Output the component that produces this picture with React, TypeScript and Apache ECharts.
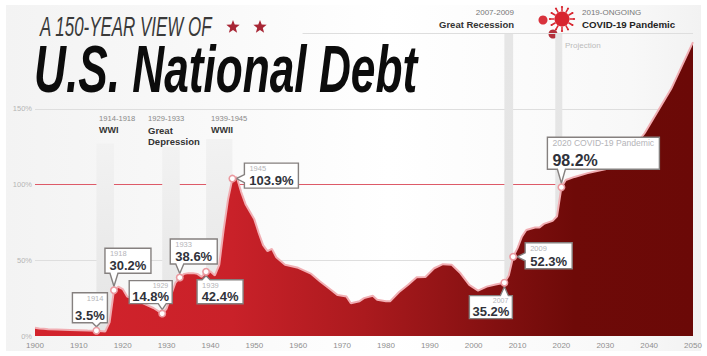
import React, { useEffect, useRef } from "react";
import * as echarts from "echarts";

const SANS = '"Liberation Sans", sans-serif';

// Debt held by the public, share of GDP
const years = [
  1900, 1901, 1902, 1903, 1905, 1908, 1910, 1912, 1914, 1916, 1917, 1918, 1919, 1920, 1921, 1923, 1925, 1927, 1929,
  1930, 1931, 1932, 1933, 1934, 1935, 1936, 1937, 1938, 1939, 1940, 1941, 1942, 1943, 1944, 1945, 1946, 1947, 1948,
  1949, 1950, 1951, 1952, 1953, 1954, 1955, 1957, 1960, 1963, 1965, 1967, 1969, 1971, 1972, 1974, 1975, 1977, 1978,
  1980, 1981, 1983, 1985, 1987, 1989, 1991, 1993, 1995, 1997, 1999, 2001, 2003, 2005, 2007, 2008, 2009, 2010, 2011,
  2012, 2014, 2015, 2016, 2018, 2019, 2020, 2021, 2023, 2026, 2030, 2035, 2039, 2045, 2050,
];
const debtShare = [
  5.5, 5, 4.8, 4.5, 4.3, 4, 3.8, 3.6, 3.5, 3, 9, 30.2, 32.5, 31, 26, 24, 21, 18.5, 14.8, 18, 27, 35, 38.6, 41, 41.5,
  41.5, 41, 39, 42.4, 42.5, 40, 47, 70, 90, 103.9, 104.8, 95, 87, 82, 77, 68, 60, 56, 57.5, 52, 47, 45, 41, 36, 31.5,
  27, 26, 21.6, 23, 25, 26.6, 24, 23, 23, 29, 33.7, 38.8, 39, 44.7, 47.4, 47, 41.4, 33.7, 30, 32.6, 34, 35.2, 40, 52.3,
  58, 65.6, 70, 71.6, 71.6, 74, 76, 79, 98.2, 103, 105, 107.5, 110, 119, 134, 163, 194,
];

const calloutYears = [1914, 1918, 1929, 1933, 1939, 1945, 2007, 2009, 2020];
const calloutValues = [3.5, 30.2, 14.8, 38.6, 42.4, 103.9, 35.2, 52.3, 98.2];
const calloutNames = ["1914", "1918", "1929", "1933", "1939", "1945", "2007", "2009", "2020 COVID-19 Pandemic"];

const eraStarts = [1914, 1929, 1939, 2007, 2018.6];
const eraEnds = [1918, 1933, 1945, 2009, 2020.2];
const eraTops = [127, 125, 130, 200, 200];

const xTickFormat = (v: number) => String(v);
const yTickFormat = (v: number) => (v === 200 ? "" : v + "%");

// Box placement of each callout relative to its point, plus the side its tail leaves from
const calloutLayout = [
  { dx: -24, dy: -38, w: 35, h: 30, side: "bottom", yearAlign: "right", size: 13, yearSize: 7.5 },
  { dx: -9, dy: -42, w: 46, h: 25, side: "bottom", yearAlign: "left", size: 13, yearSize: 7.5 },
  { dx: -33, dy: -33, w: 43, h: 23, side: "bottom", yearAlign: "right", size: 13, yearSize: 7 },
  { dx: -9.5, dy: -38.5, w: 47, h: 25, side: "bottom", yearAlign: "left", size: 13, yearSize: 7.5 },
  { dx: -9, dy: 8, w: 46, h: 24, side: "top", yearAlign: "left", size: 13, yearSize: 7.5 },
  { dx: 12, dy: -15.5, w: 54, h: 25, side: "left", yearAlign: "left", size: 13, yearSize: 7.5 },
  { dx: -35, dy: 13, w: 43, h: 23, side: "top", yearAlign: "right", size: 13, yearSize: 7 },
  { dx: 12, dy: -14, w: 47, h: 26, side: "left", yearAlign: "left", size: 13, yearSize: 7.5 },
  { dx: -14, dy: -50, w: 112, h: 32, side: "bottom", yearAlign: "left", size: 16, yearSize: 8.6 },
];

function calloutOutline(l: any) {
  const { dx, dy, w, h, side } = l;
  const r = dx + w;
  const b = dy + h;
  const t = 4;
  if (side === "bottom") {
    return [[dx, dy], [r, dy], [r, b], [t, b], [0, -4], [-t, b], [dx, b]];
  }
  if (side === "top") {
    return [[dx, dy], [-t, dy], [0, 4], [t, dy], [r, dy], [r, b], [dx, b]];
  }
  return [[dx, dy], [r, dy], [r, b], [dx, b], [dx, 4], [4, 0], [dx, -4]];
}

function renderCallout(params: any, api: any) {
  const i = params.dataIndex;
  const [px, py] = api.coord([api.value(0), api.value(1)]);
  const l = calloutLayout[i];
  const pts = calloutOutline(l).map(([x, y]) => [px + x, py + y]);
  const yearRight = l.yearAlign === "right";
  const wide = l.size > 14;
  return {
    type: "group",
    children: [
      { type: "polygon", shape: { points: pts }, style: { fill: "#fff", stroke: "#85807f", lineWidth: 1.4 } },
      {
        type: "text",
        style: {
          text: calloutNames[i],
          x: px + (yearRight ? l.dx + l.w - 4 : l.dx + 5),
          y: py + l.dy + 1.5,
          align: yearRight ? "right" : "left",
          verticalAlign: "top",
          fill: "#b4b4b8",
          font: `${l.yearSize}px ${SANS}`,
        },
      },
      {
        type: "text",
        style: {
          text: calloutValues[i].toFixed(1) + "%",
          x: px + l.dx + (wide ? 5 : l.w / 2),
          y: py + l.dy + l.h - 1,
          align: wide ? "left" : "center",
          verticalAlign: "bottom",
          fill: "#30323a",
          font: `bold ${l.size}px ${SANS}`,
        },
      },
      {
        type: "circle",
        shape: { cx: px, cy: py, r: 3.2 },
        style: { fill: "#fff", stroke: "#eb9aa0", lineWidth: 1.6 },
      },
    ],
  };
}

function star(cx: number, cy: number, r: number) {
  const points: number[][] = [];
  for (let k = 0; k < 10; k++) {
    const a = -Math.PI / 2 + (k * Math.PI) / 5;
    const q = k % 2 ? r * 0.42 : r;
    points.push([cx + q * Math.cos(a), cy + q * Math.sin(a)]);
  }
  return { type: "polygon", shape: { points }, style: { fill: "#a82635" } };
}

// Spiked ball standing for the virus in the top legend
function virus(cx: number, cy: number, r: number, fill: string, spikes: number) {
  const parts: any[] = [];
  for (let k = 0; k < spikes; k++) {
    const a = (k * 2 * Math.PI) / spikes;
    parts.push({
      type: "line",
      shape: {
        x1: cx + r * Math.cos(a),
        y1: cy + r * Math.sin(a),
        x2: cx + (r + 4) * Math.cos(a),
        y2: cy + (r + 4) * Math.sin(a),
      },
      style: { stroke: fill, lineWidth: 1.5 },
    });
    parts.push({
      type: "circle",
      shape: { cx: cx + (r + 4.5) * Math.cos(a), cy: cy + (r + 4.5) * Math.sin(a), r: 1.1 },
      style: { fill },
    });
  }
  parts.push({ type: "circle", shape: { cx, cy, r }, style: { fill } });
  return parts;
}

function label(text: string, x: number, y: number, font: string, fill: string, align = "left") {
  return { type: "text", style: { text, x, y, font, fill, align, verticalAlign: "middle" } };
}

// Condensed headline type: the text is squeezed horizontally about its left edge
function headline(text: string, x: number, y: number, font: string, fill: string, scaleX: number) {
  return { type: "text", x, y, scaleX, style: { text, x: 0, y: 0, font, fill, verticalAlign: "middle" } };
}

function buildOption() {
  const line = years.map((y, i) => [y, debtShare[i]]);
  const eras = eraStarts.map((s, i) => [
    {
      xAxis: s,
      yAxis: 0,
      itemStyle: {
        color: {
          type: "linear", x: 0, y: 0, x2: 0, y2: 1,
          colorStops: [
            { offset: 0, color: i > 2 ? "#e6e6e6" : "#f2f2f2" },
            { offset: 1, color: "#e4e4e4" },
          ],
        },
      },
    },
    { xAxis: eraEnds[i], yAxis: eraTops[i] },
  ]);

  return {
    animation: false,
    grid: { left: 35, right: 14, top: 33, bottom: 20 },
    xAxis: {
      type: "value",
      min: 1900,
      max: 2050,
      interval: 10,
      axisLine: { show: false },
      axisTick: { show: false },
      splitLine: { show: false },
      axisLabel: {
        color: "#8f8f8f",
        fontSize: 8,
        fontFamily: SANS,
        margin: 5,
        formatter: xTickFormat,
      },
    },
    yAxis: {
      type: "value",
      min: 0,
      max: 200,
      interval: 50,
      axisLine: { show: false },
      axisTick: { show: false },
      axisLabel: {
        fontSize: 7.5,
        fontFamily: SANS,
        margin: 3,
        color: (v: number) => (v === 100 ? "#dc5560" : "#b5b5b5"),
        formatter: yTickFormat,
      },
      splitLine: {
        show: true,
        lineStyle: { color: ["transparent", "#dedede", "#dd5a68", "#dedede", "transparent"], width: 1.2 },
      },
    },
    graphic: {
      elements: [
        {
          type: "rect",
          z: -10,
          silent: true,
          shape: { x: 6, y: 5, width: 695, height: 346 },
          style: {
            fill: {
              type: "linear", x: 0, y: 0, x2: 1, y2: 0,
              colorStops: [
                { offset: 0, color: "#f3f3f3" },
                { offset: 0.25, color: "#f8f8f8" },
                { offset: 0.55, color: "#ffffff" },
                { offset: 0.9, color: "#f8f8f8" },
                { offset: 1, color: "#f2f2f2" },
              ],
            },
          },
        },
        headline("A 150-YEAR VIEW OF", 40, 26, `italic 28px ${SANS}`, "#3a3a3a", 0.605),
        star(233, 27, 7),
        star(260, 27, 7),
        headline("U.S. National Debt", 34, 69, `italic bold 66px ${SANS}`, "#0c0c0c", 0.67),
        label("1914-1918", 99, 118, `7.6px ${SANS}`, "#888"),
        label("WWI", 99, 130, `bold 9px ${SANS}`, "#333"),
        label("1929-1933", 148, 118, `7.6px ${SANS}`, "#888"),
        label("Great", 148, 130, `bold 9.5px ${SANS}`, "#333"),
        label("Depression", 148, 141, `bold 9.5px ${SANS}`, "#333"),
        label("1939-1945", 211, 118, `7.6px ${SANS}`, "#888"),
        label("WWII", 211, 130, `bold 9px ${SANS}`, "#333"),
        label("2007-2009", 514, 12, `8px ${SANS}`, "#777", "right"),
        label("Great Recession", 514, 24, `bold 9.5px ${SANS}`, "#333", "right"),
        label("2019-ONGOING", 582, 12, `8px ${SANS}`, "#777"),
        label("COVID-19 Pandemic", 582, 24, `bold 9.7px ${SANS}`, "#222"),
        label("Projection", 565, 45, `8px ${SANS}`, "#bbb"),
        ...virus(543, 20, 4.5, "#d8323c", 0),
        ...virus(562, 19, 7.5, "#d8252f", 12),
        ...virus(553, 34, 4.5, "#b3303a", 0),
      ],
    },
    series: [
      {
        type: "line",
        data: [],
        silent: true,
        z: 1,
        markArea: { silent: true, data: eras },
        markLine: {
          silent: true,
          symbol: "none",
          label: { show: false },
          lineStyle: { color: "#dedede", width: 1.2, type: "solid" },
          data: [[{ coord: [1961, 200] }, { coord: [2050, 200] }]],
        },
      },
      {
        type: "line",
        data: line,
        z: 3,
        symbol: "none",
        smooth: false,
        lineStyle: { color: "#f1aeb3", width: 2 },
        areaStyle: {
          opacity: 1,
          color: {
            type: "linear", x: 0, y: 0, x2: 1, y2: 0,
            colorStops: [
              { offset: 0, color: "#d3232c" },
              { offset: 0.3, color: "#c92129" },
              { offset: 0.5, color: "#ab1a1e" },
              { offset: 0.72, color: "#7f0f0f" },
              { offset: 0.82, color: "#6e0a08" },
              { offset: 1, color: "#6b0907" },
            ],
          },
        },
      },
      {
        type: "custom",
        z: 5,
        coordinateSystem: "cartesian2d",
        data: calloutYears.map((y, i) => [y, calloutValues[i]]),
        encode: { x: 0, y: 1 },
        clip: false,
        renderItem: renderCallout,
      },
    ],
  };
}

export default function App() {
  const ref = useRef<HTMLDivElement>(null);
  useEffect(() => {
    document.body.style.margin = "0";
    document.body.style.background = "#fff";
    const chart = echarts.init(ref.current!, undefined, { renderer: "svg" });
    chart.setOption(buildOption() as any);
    return () => chart.dispose();
  }, []);
  return <div ref={ref} style={{ width: 707, height: 356 }} />;
}
